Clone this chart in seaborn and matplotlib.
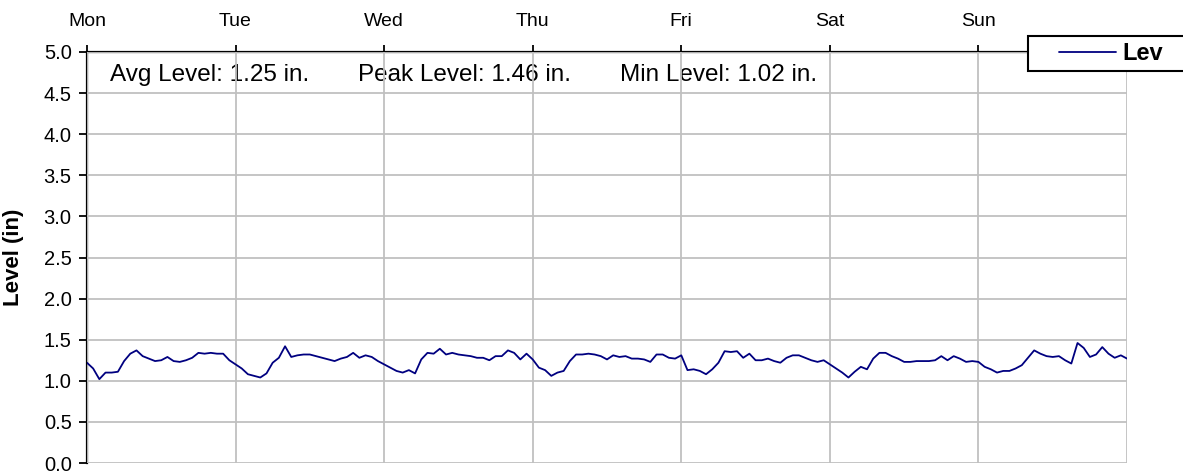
import pandas as pd
import matplotlib
matplotlib.use("Agg")
import matplotlib.pyplot as plt
import seaborn as sns
from matplotlib.patches import Rectangle

# ====== DATA (hourly readings, Mon 00:00 -> next Mon 00:00) ======
hours = list(range(169))
level_in = [
    # Mon
    1.22, 1.15, 1.02, 1.10, 1.10, 1.11, 1.24, 1.33, 1.37, 1.30, 1.27, 1.24,
    1.25, 1.29, 1.24, 1.23, 1.25, 1.28, 1.34, 1.33, 1.34, 1.33, 1.33, 1.25,
    # Tue
    1.20, 1.15, 1.08, 1.06, 1.04, 1.09, 1.22, 1.28, 1.42, 1.29, 1.31, 1.32,
    1.32, 1.30, 1.28, 1.26, 1.24, 1.27, 1.29, 1.34, 1.28, 1.31, 1.29, 1.24,
    # Wed
    1.20, 1.16, 1.12, 1.10, 1.13, 1.09, 1.26, 1.34, 1.33, 1.39, 1.32, 1.34,
    1.32, 1.31, 1.30, 1.28, 1.28, 1.25, 1.30, 1.30, 1.37, 1.34, 1.26, 1.33,
    # Thu
    1.26, 1.16, 1.13, 1.06, 1.10, 1.12, 1.24, 1.32, 1.32, 1.33, 1.32, 1.30,
    1.26, 1.31, 1.29, 1.30, 1.27, 1.27, 1.26, 1.23, 1.32, 1.32, 1.28, 1.27,
    # Fri
    1.31, 1.13, 1.14, 1.12, 1.08, 1.14, 1.22, 1.36, 1.35, 1.36, 1.28, 1.33,
    1.25, 1.25, 1.27, 1.24, 1.22, 1.28, 1.31, 1.31, 1.28, 1.25, 1.23, 1.25,
    # Sat
    1.20, 1.15, 1.10, 1.04, 1.11, 1.17, 1.14, 1.27, 1.34, 1.34, 1.30, 1.27,
    1.23, 1.23, 1.24, 1.24, 1.24, 1.25, 1.30, 1.25, 1.30, 1.27, 1.23, 1.24,
    # Sun
    1.23, 1.17, 1.14, 1.10, 1.12, 1.12, 1.15, 1.19, 1.28, 1.37, 1.33, 1.30,
    1.29, 1.30, 1.25, 1.21, 1.46, 1.40, 1.29, 1.32, 1.41, 1.33, 1.28, 1.31,
    1.27,
]
day_ticks = [0, 24, 48, 72, 96, 120, 144, 168]
day_labels = ["Mon", "Tue", "Wed", "Thu", "Fri", "Sat", "Sun", ""]
y_ticks = [0.0, 0.5, 1.0, 1.5, 2.0, 2.5, 3.0, 3.5, 4.0, 4.5, 5.0]
stats_text = ["Avg Level: 1.25 in.", "Peak Level: 1.46 in.", "Min Level: 1.02 in."]

df = pd.DataFrame({"hour": hours, "level": level_in})

# ====== STYLE ======
sns.set_style("white")
plt.rcParams["font.family"] = ["Liberation Sans", "DejaVu Sans"]
plt.rcParams["text.color"] = "black"
plt.rcParams["axes.labelcolor"] = "black"
plt.rcParams["xtick.color"] = "black"
plt.rcParams["ytick.color"] = "black"

fig = plt.figure(figsize=(11.83, 4.74), dpi=100)
ax = fig.add_axes([0.0735, 0.0232, 0.8792, 0.8671])

sns.lineplot(data=df, x="hour", y="level", ax=ax, color="#000080",
             linewidth=1.3, label="Lev", legend=False, zorder=3)

ax.set_xlim(0, 168)
ax.set_ylim(0, 5)
ax.set_xticks(day_ticks)
ax.set_xticklabels(day_labels)
ax.set_yticks(y_ticks)
ax.set_yticklabels([f"{v:.1f}" for v in y_ticks])

# day names on top, like the original sheet chart
ax.xaxis.tick_top()
ax.tick_params(axis="x", top=True, bottom=False, direction="out", length=5,
               width=1.3, labelsize=14, pad=11)
ax.tick_params(axis="y", left=True, direction="out", length=6, width=1.3,
               labelsize=14.5, pad=5)

ax.grid(True, color="#c0c0c0", linewidth=1.3)
ax.set_axisbelow(False)

for side in ["right", "bottom"]:
    ax.spines[side].set_visible(False)
for side in ["left", "top"]:
    ax.spines[side].set_color("black")
    ax.spines[side].set_linewidth(1.6)

ax.set_xlabel("")
ax.set_ylabel("Level (in)", fontsize=16, fontweight="bold")
ax.yaxis.set_label_coords(-0.061, 0.5)

# summary figures inside the plot
for xpos, txt in zip([0.022, 0.2606, 0.5125], stats_text):
    ax.text(xpos, 0.944, txt, transform=ax.transAxes, fontsize=17.5,
            ha="left", va="center", zorder=1)

# legend box, partly cut by the right edge
fig.patches.append(Rectangle((1028 / 1183, 1 - 71 / 474), 0.2, 35 / 474,
                             transform=fig.transFigure, facecolor="white",
                             edgecolor="black", linewidth=1.5, zorder=5))
handles, labels = ax.get_legend_handles_labels()
leg = fig.legend(handles, labels, loc="center left",
                 bbox_to_anchor=(1059 / 1183, 1 - 53.5 / 474),
                 frameon=False, handlelength=2.4, handletextpad=0.3,
                 borderaxespad=0, borderpad=0,
                 prop={"size": 17, "weight": "bold"})
leg.set_zorder(6)

plt.savefig("out.png", dpi=100)
plt.close()
